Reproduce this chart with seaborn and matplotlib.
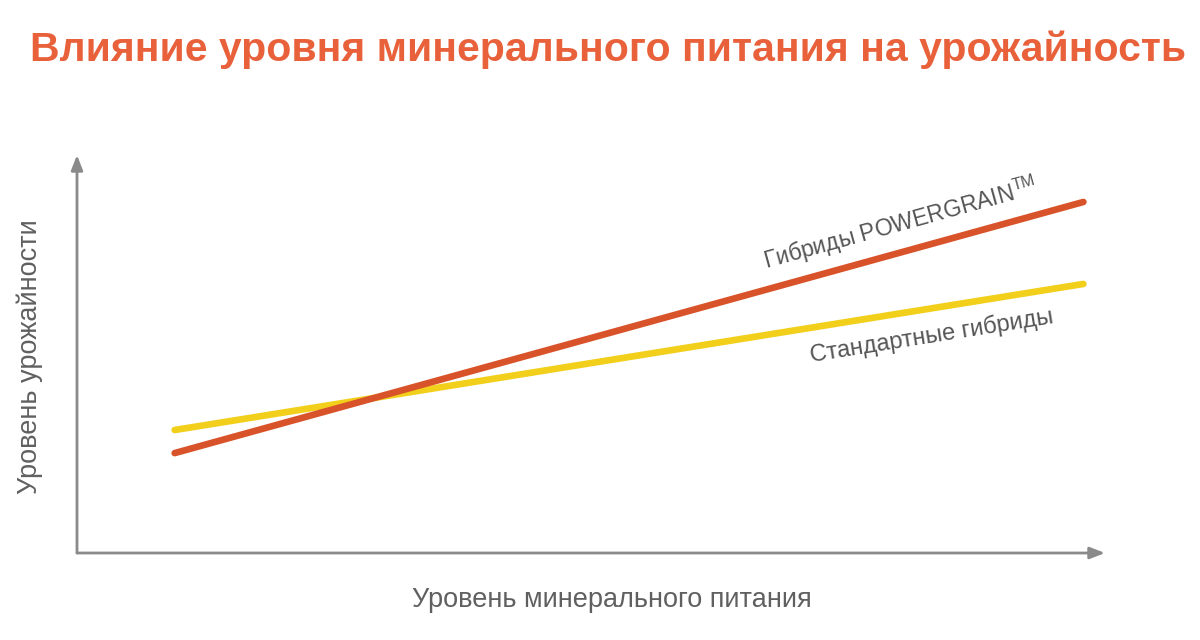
import numpy as np
import pandas as pd
import seaborn as sns
import matplotlib.pyplot as plt

# data (axes scaled 0..100 on both sides)
x_level = [9.5, 97.9]
powergrain = [25.1, 88.2]
standard = [30.9, 67.6]

title = "Влияние уровня минерального питания на урожайность"
xlabel = "Уровень минерального питания"
ylabel = "Уровень урожайности"
label_pg = "Гибриды POWERGRAIN$^{\\mathregular{TM}}$"
label_std = "Стандартные гибриды"

sns.set_style("white")
plt.rcParams['font.family'] = ['Liberation Sans', 'DejaVu Sans']

df = pd.DataFrame({
    "x": x_level * 2,
    "y": powergrain + standard,
    "series": ["pg"] * 2 + ["std"] * 2,
})

fig = plt.figure(figsize=(12, 6.4), dpi=100)
ax = fig.add_axes([77 / 1200, 1 - 553 / 640, 1028 / 1200, 398 / 640])

sns.lineplot(data=df, x="x", y="y", hue="series", hue_order=["std", "pg"],
             palette={"pg": "#D9532A", "std": "#F1CF1B"}, linewidth=4.8,
             legend=False, ax=ax)

ax.set_xlim(0, 100)
ax.set_ylim(0, 100)
ax.set_xticks([])
ax.set_yticks([])
for s in ax.spines.values():
    s.set_visible(False)
ax.set_xlabel("")
ax.set_ylabel("")

# arrow axes
axis_col = "#8a8a8a"
ax.annotate("", xy=(1.0, 0), xytext=(0, 0), xycoords="axes fraction",
            arrowprops=dict(arrowstyle="-|>,head_length=0.9,head_width=0.35",
                            color=axis_col, lw=2, shrinkA=0, shrinkB=0))
ax.annotate("", xy=(0, 1.0), xytext=(0, 0), xycoords="axes fraction",
            arrowprops=dict(arrowstyle="-|>,head_length=0.9,head_width=0.35",
                            color=axis_col, lw=2, shrinkA=0, shrinkB=0))


def screen_angle(xs, ys):
    p = ax.transData.transform(np.column_stack([xs, ys]))
    return np.degrees(np.arctan2(p[1, 1] - p[0, 1], p[1, 0] - p[0, 0]))


txt_col = "#555555"
ax.text(80.5, 79.0, label_pg, rotation=screen_angle(x_level, powergrain),
        rotation_mode="anchor", ha="center", va="bottom", fontsize=16.5,
        color=txt_col)
ax.text(83.0, 57.5, label_std, rotation=screen_angle(x_level, standard),
        rotation_mode="anchor", ha="center", va="top", fontsize=17,
        color=txt_col)

fig.text(612 / 1200, 1 - 600 / 640, xlabel, ha="center", va="center",
         fontsize=19.5, color="#606060")
fig.text(30 / 1200, 1 - 357 / 640, ylabel, ha="center", va="center",
         rotation=90, fontsize=19.5, color="#606060")
fig.text(608 / 1200, 1 - 50 / 640, title, ha="center", va="center",
         fontsize=29.5, fontweight="bold", color="#E8613B")

fig.savefig("out.png", dpi=100)
